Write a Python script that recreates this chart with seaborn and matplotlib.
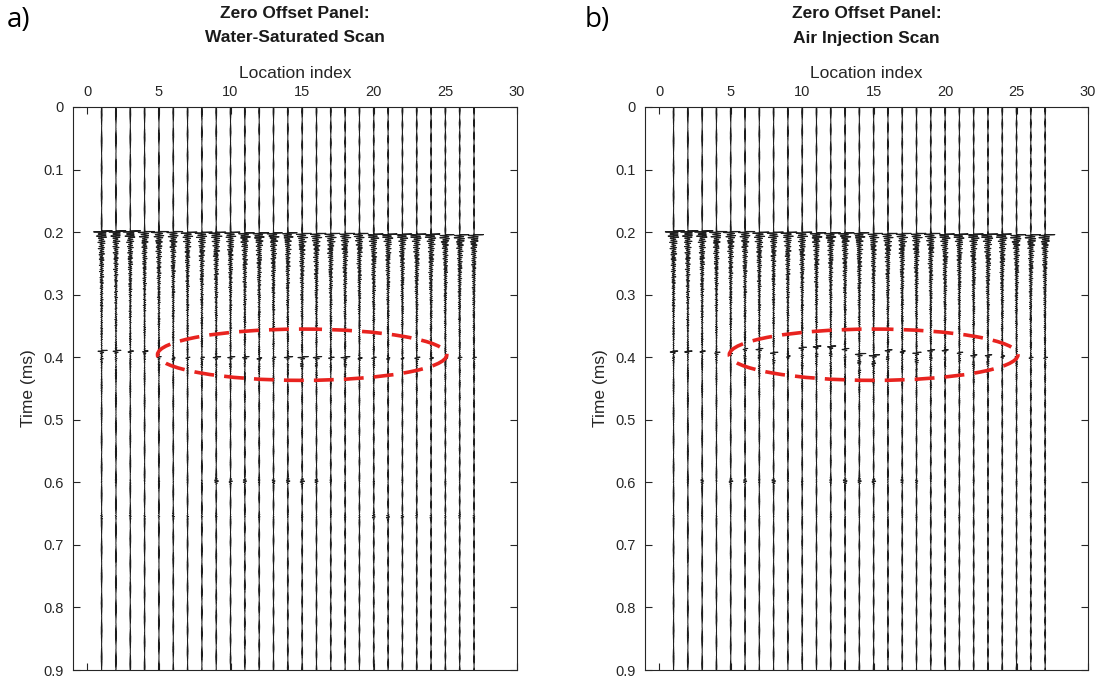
import numpy as np
import pandas as pd
import matplotlib
matplotlib.use("Agg")
import matplotlib.pyplot as plt
from matplotlib.patches import Ellipse
import seaborn as sns

# ---------------- data ----------------
locations = list(range(1, 28))
x_ticks = [0, 5, 10, 15, 20, 25, 30]
y_ticks = [0, 0.1, 0.2, 0.3, 0.4, 0.5, 0.6, 0.7, 0.8, 0.9]
title_line1 = ["Zero Offset Panel:", "Zero Offset Panel:"]
title_line2 = ["Water-Saturated Scan", "Air Injection Scan"]
panel_tags = ["a)", "b)"]

# first (strong) arrival near 0.2 ms
first_time_ws = [0.198, 0.198, 0.198, 0.199, 0.199, 0.199, 0.200, 0.200, 0.200, 0.200, 0.201, 0.201, 0.201, 0.201,
                 0.202, 0.202, 0.202, 0.202, 0.202, 0.203, 0.203, 0.203, 0.203, 0.203, 0.204, 0.204, 0.204]
first_amp_ws = [0.45, 0.42, 0.42, 0.40, 0.40, 0.38, 0.40, 0.42, 0.40, 0.36, 0.38, 0.38, 0.36, 0.36,
                0.36, 0.38, 0.36, 0.36, 0.36, 0.36, 0.38, 0.38, 0.38, 0.36, 0.36, 0.36, 0.40]
coda_amp_ws = [0.30, 0.28, 0.28, 0.26, 0.28, 0.28, 0.26, 0.28, 0.30, 0.28, 0.28, 0.28, 0.28, 0.26,
               0.28, 0.28, 0.28, 0.28, 0.26, 0.28, 0.26, 0.26, 0.28, 0.28, 0.26, 0.28, 0.26]
first_time_ai = [0.198, 0.198, 0.198, 0.199, 0.199, 0.199, 0.200, 0.200, 0.200, 0.200, 0.201, 0.201, 0.201, 0.201,
                 0.202, 0.202, 0.202, 0.202, 0.202, 0.203, 0.203, 0.203, 0.203, 0.203, 0.204, 0.204, 0.204]
first_amp_ai = [0.45, 0.42, 0.45, 0.42, 0.40, 0.40, 0.40, 0.40, 0.38, 0.38, 0.38, 0.38, 0.38, 0.36,
                0.36, 0.36, 0.36, 0.36, 0.38, 0.36, 0.36, 0.38, 0.40, 0.38, 0.38, 0.38, 0.40]
coda_amp_ai = [0.32, 0.30, 0.30, 0.28, 0.28, 0.28, 0.28, 0.26, 0.28, 0.28, 0.28, 0.28, 0.28, 0.28,
               0.26, 0.28, 0.28, 0.28, 0.28, 0.28, 0.26, 0.28, 0.30, 0.28, 0.28, 0.28, 0.28]

# second event near 0.4 ms (inside the dashed ellipse)
second_time_ws = [0.389, 0.389, 0.390, 0.390, 0.399, 0.401, 0.400, 0.400, 0.399, 0.399, 0.399, 0.401, 0.400, 0.399,
                  0.399, 0.399, 0.400, 0.399, 0.401, 0.400, 0.401, 0.401, 0.400, 0.401, 0.401, 0.400, 0.400]
second_amp_ws = [0.38, 0.34, 0.24, 0.22, 0.14, 0.16, 0.14, 0.14, 0.30, 0.30, 0.30, 0.18, 0.16, 0.34,
                 0.40, 0.34, 0.24, 0.34, 0.18, 0.16, 0.16, 0.14, 0.20, 0.16, 0.14, 0.14, 0.14]
second_len_ws = [0.016, 0.016, 0.014, 0.014, 0.012, 0.012, 0.012, 0.012, 0.016, 0.016, 0.016, 0.012, 0.012, 0.016,
                 0.016, 0.016, 0.014, 0.016, 0.012, 0.012, 0.012, 0.012, 0.014, 0.012, 0.012, 0.012, 0.012]
second_time_ai = [0.390, 0.390, 0.390, 0.392, 0.394, 0.386, 0.386, 0.392, 0.398, 0.384, 0.382, 0.382, 0.386, 0.394,
                  0.396, 0.388, 0.390, 0.392, 0.388, 0.388, 0.392, 0.396, 0.396, 0.398, 0.398, 0.400, 0.400]
second_amp_ai = [0.34, 0.32, 0.24, 0.20, 0.16, 0.18, 0.28, 0.32, 0.18, 0.28, 0.32, 0.34, 0.32, 0.40,
                 0.42, 0.28, 0.24, 0.32, 0.28, 0.28, 0.24, 0.24, 0.24, 0.18, 0.14, 0.14, 0.14]
second_len_ai = [0.012, 0.012, 0.012, 0.014, 0.018, 0.028, 0.032, 0.032, 0.022, 0.032, 0.036, 0.036, 0.032, 0.028,
                 0.028, 0.032, 0.032, 0.028, 0.032, 0.032, 0.028, 0.022, 0.022, 0.022, 0.018, 0.014, 0.014]

# weak events near 0.6 and 0.66 ms
third_amp_ws = [0.02, 0.02, 0.02, 0.02, 0.02, 0.02, 0.02, 0.03, 0.14, 0.10, 0.12, 0.03, 0.10, 0.12,
                0.14, 0.12, 0.03, 0.02, 0.02, 0.02, 0.02, 0.02, 0.02, 0.02, 0.02, 0.02, 0.02]
fourth_amp_ws = [0.05, 0.04, 0.04, 0.04, 0.05, 0.05, 0.05, 0.05, 0.03, 0.02, 0.02, 0.02, 0.02, 0.02,
                 0.02, 0.02, 0.02, 0.02, 0.04, 0.10, 0.10, 0.10, 0.05, 0.05, 0.05, 0.05, 0.05]
third_amp_ai = [0.02, 0.02, 0.10, 0.03, 0.12, 0.12, 0.03, 0.14, 0.03, 0.03, 0.03, 0.05, 0.14, 0.12,
                0.12, 0.03, 0.08, 0.08, 0.02, 0.02, 0.02, 0.02, 0.02, 0.02, 0.02, 0.02, 0.02]
fourth_amp_ai = [0.02, 0.02, 0.02, 0.02, 0.02, 0.02, 0.02, 0.02, 0.02, 0.02, 0.02, 0.02, 0.02, 0.02,
                 0.02, 0.02, 0.02, 0.02, 0.02, 0.02, 0.02, 0.02, 0.02, 0.02, 0.02, 0.02, 0.02]

ellipse_center = (15.0, 0.396)
ellipse_size = (20.2, 0.082)

# ---------------- waveform model ----------------
t = np.linspace(0.0, 0.9, 9001)
F = 300.0  # carrier (cycles per ms)


def trace_wave(k, t1, a1, c1, t2, a2, len2, a3, a4):
    tau1 = t - t1
    on1 = tau1 >= 0
    tt1 = np.where(on1, tau1, 0.0)
    env1 = a1 * np.exp(-tt1 / 0.006) + c1 * np.exp(-tt1 / 0.085)
    mod1 = 0.5 + 0.5 * np.cos(2 * np.pi * (55.0 + 1.5 * k) * tt1) ** 2
    w = np.where(on1, env1 * mod1 * np.cos(2 * np.pi * F * tt1), 0.0)

    tau2 = t - t2
    on2 = tau2 >= 0
    tt2 = np.where(on2, tau2, 0.0)
    env2 = a2 * (0.6 * np.exp(-tt2 / 0.005) + 0.4 * np.exp(-tt2 / len2))
    mod2 = 0.55 + 0.45 * np.cos(2 * np.pi * 70.0 * tt2)
    w += np.where(on2, env2 * mod2 * np.cos(2 * np.pi * F * tt2), 0.0)

    for tc, a in ((0.598, a3), (0.655, a4)):
        tau = t - tc
        w += a * np.exp(-(tau / 0.004) ** 2) * np.cos(2 * np.pi * F * tau)

    # fine background jitter that makes each trace look fuzzy
    w += 0.04 * np.sin(2 * np.pi * (520.0 + 3 * k) * t) * (0.6 + 0.4 * np.sin(2 * np.pi * (23.0 + k) * t))
    return w


def build_frame(ft, fa, ca, st, sa, sl, ta, fo):
    rows = []
    for k, loc in enumerate(locations):
        w = trace_wave(k, ft[k], fa[k], ca[k], st[k], sa[k], sl[k], ta[k], fo[k])
        rows.append(pd.DataFrame({"trace": loc, "x": loc + w, "t": t}))
    return pd.concat(rows, ignore_index=True)


frames = [
    build_frame(first_time_ws, first_amp_ws, coda_amp_ws, second_time_ws, second_amp_ws, second_len_ws,
                third_amp_ws, fourth_amp_ws),
    build_frame(first_time_ai, first_amp_ai, coda_amp_ai, second_time_ai, second_amp_ai, second_len_ai,
                third_amp_ai, fourth_amp_ai),
]

# ---------------- figure ----------------
sns.set_theme(style="white")
plt.rcParams["font.family"] = ["Liberation Sans", "DejaVu Sans"]

W, H = 1104, 684
fig = plt.figure(figsize=(W / 100, H / 100), dpi=100)

axes_px = [(73, 107, 517, 670), (645, 107, 1088, 670)]
tag_px = [(7, 20), (585, 20)]
txt_col = "#262626"

for i, (l, tp, r, b) in enumerate(axes_px):
    ax = fig.add_axes([l / W, 1 - b / H, (r - l) / W, (b - tp) / H])
    sns.lineplot(data=frames[i], x="x", y="t", units="trace", estimator=None, sort=False, orient="y",
                 color="#1c1c1c", linewidth=0.75, legend=False, ax=ax)
    ax.set_xlim(-1, 30)
    ax.set_ylim(0.9, 0.0)
    ax.set_xticks(x_ticks)
    ax.set_yticks(y_ticks)
    ax.set_yticklabels(["0"] + [f"{v:.1f}" for v in y_ticks[1:]])
    ax.xaxis.set_label_position("top")
    ax.tick_params(axis="x", top=True, bottom=True, labeltop=True, labelbottom=False,
                   direction="in", length=5, width=0.8, colors=txt_col, labelsize=10.5, pad=6)
    ax.tick_params(axis="y", left=True, right=True, direction="in", length=5, width=0.8,
                   colors=txt_col, labelsize=10.5, pad=7)
    ax.set_xlabel("Location index", fontsize=12.5, color=txt_col, labelpad=5)
    ax.set_ylabel("Time (ms)", fontsize=12.5, color=txt_col, labelpad=5)
    for s in ax.spines.values():
        s.set_color(txt_col)
        s.set_linewidth(0.8)
        s.set_visible(True)

    ell = Ellipse(ellipse_center, ellipse_size[0], ellipse_size[1], fill=False, edgecolor="#e8231f",
                  linewidth=2.6, linestyle=(0, (5.5, 2.8)), zorder=5)
    ax.add_patch(ell)

    cx = (l + r) / 2
    fig.text(cx / W, 1 - 14 / H, title_line1[i], ha="center", va="center", fontsize=12.5,
             fontweight="bold", color="#1a1a1a")
    fig.text(cx / W, 1 - 38 / H, title_line2[i], ha="center", va="center", fontsize=12.5,
             fontweight="bold", color="#1a1a1a")
    fig.text(tag_px[i][0] / W, 1 - tag_px[i][1] / H, panel_tags[i], ha="left", va="center",
             fontsize=20, color="black", family=["Open Sans", "DejaVu Sans"])

fig.savefig("out.png", dpi=100)
